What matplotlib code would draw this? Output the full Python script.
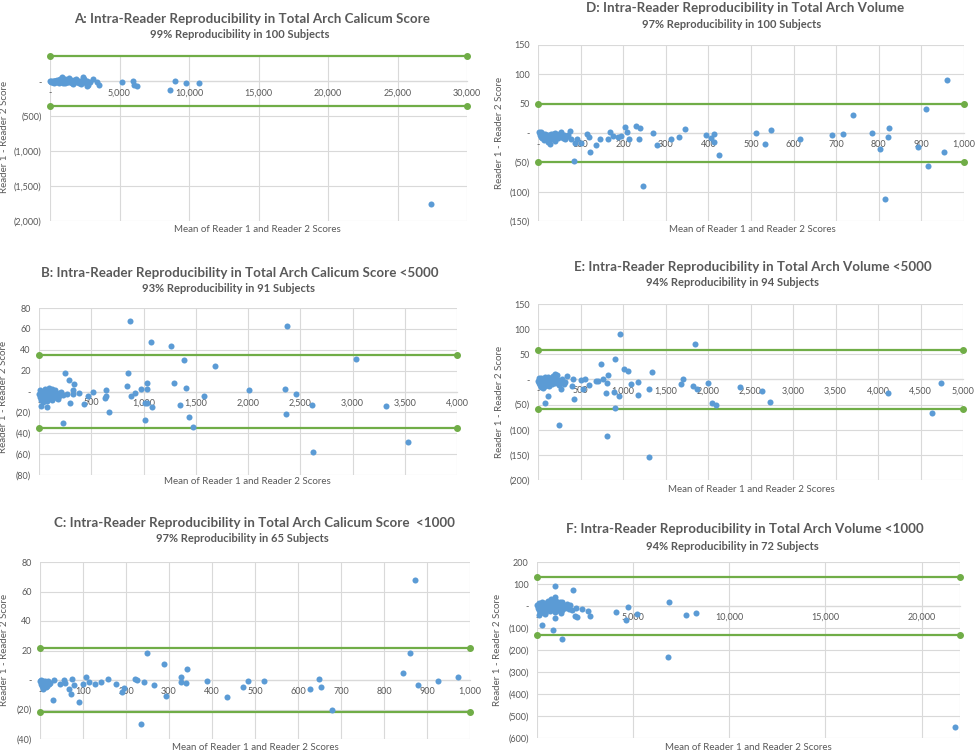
import matplotlib
matplotlib.use("Agg")
import matplotlib.pyplot as plt
from matplotlib.ticker import FuncFormatter, MultipleLocator

plt.rcParams['font.family'] = ['Lato', 'DejaVu Sans']

# ---------------- data ----------------
# Panel A: total arch calcium score
A_x = [20, 60, 100, 140, 180, 220, 260, 300, 340, 380, 420, 460, 500, 540, 580, 620, 660, 700, 740, 780,
       820, 880, 920, 960, 1000, 1050, 1100, 1150, 1200, 1250, 1300, 1350, 1400, 1450, 1500, 1550, 1600, 1650,
       1700, 1760, 1820, 1880, 1950, 2020, 2100, 2180, 2260, 2340, 2420, 2500, 2580, 2660, 2750, 2850,
       840, 2400, 3070, 3360, 3550, 2640, 5200, 6000, 6070, 6240, 8600, 8980, 9800, 10700, 27400]
A_y = [0, -8, 5, -15, 3, -5, 10, -20, 0, 8, -12, -3, 15, -6, 2, -25, 12, -10, 30, -2,
       5, 40, -18, 10, -8, 35, -30, 18, -5, 25, -15, 0, 45, -10, 20, -22, 8, -35, 15, 0, -12, 28, -6, 10,
       -20, 5, -40, 15, 30, -5, -25, 10, -50, -15,
       66, 66, 33, -14, -48, -62, -5, 0, -48, -71, -128, 5, -28, -24, -1753]

# Panel D: total arch volume
D_x = [2, 4, 5, 7, 8, 10, 11, 13, 15, 16, 18, 20, 22, 24, 25, 27, 28, 30, 32, 34, 35, 37, 39, 40, 42,
       45, 47, 49, 52, 55, 58, 60, 63, 66, 70,
       74, 77, 84, 88, 92, 102, 116, 120, 121, 135, 146, 164, 170, 175, 188, 194, 204, 209, 214, 229, 236,
       240, 246, 271, 280, 313, 330, 345, 395, 407, 412, 412, 424, 511, 532, 548, 614, 689, 715, 740, 783,
       803, 814, 821, 824, 893, 911, 915, 954, 961]
D_y = [2, -3, 0, -6, 1, -9, -2, -5, -12, -1, -7, -3, -10, -15, -4, -8, -18, -2, -6, -11, -1, -4, -14, 0, -7,
       -3, -9, -2, -5, 1, -8, -4, -10, -6, -3,
       4, -11, -47, -17, -11, -17, -2, -7, -32, -21, -11, -11, 1, -5, -7, -5, 11, 1, -10, 12, -10,
       8, -90, 0, -20, -10, -6, 6, -4, -9, -1, -15, -38, 0, -19, 5, -11, -4, -2, 31, 0,
       -27, -112, -7, 9, -24, 41, -56, -33, 90]

# Panel B: calcium score < 5000
B_x = [3, 8, 12, 18, 22, 28, 33, 38, 45, 50, 55, 60, 66, 72, 78, 85, 90, 96, 102, 108, 115, 120, 126, 132,
       140, 148, 155, 162, 170, 178, 188, 196, 205, 215, 230,
       869, 2377, 1070, 1259, 1390, 3032, 1681, 246, 856, 288, 339, 840, 1038, 1291, 974, 1035, 1403, 2013,
       2358, 2463, 920, 878, 1582, 645, 645, 636, 518, 470, 428, 387, 326, 326, 294, 674, 1010, 1032, 1086,
       1348, 1435, 1010, 1470, 230, 2610, 3316, 2361, 2620, 3530, 22, 80, 182, 265]
B_y = [-2, -5, 1, -8, -3, 0, -6, -10, -1, -4, 2, -7, -3, -9, 0, -5, -2, 3, -6, -1, -4, 2, -8, -3,
       0, -5, 1, -2, -6, -3, -1, -4, -2, 0, -3,
       68, 63, 47, 44, 30, 31, 24, 18, 18, 11, 7, 5, 8, 8, 2, 2, 3, 1,
       2, -2, -1, -4, -4, 1, -4, -6, 0, -4, -12, -1, 1, -2, -11, -20, -11, -11, -15,
       -13, -24, -27, -34, -30, -13, -14, -22, -58, -48, -14, -15, -7, -2]

# Panel E: volume < 5000
E_x = [5, 10, 15, 20, 25, 30, 35, 40, 45, 50, 55, 60, 65, 70, 75, 80, 85, 90, 95, 100, 110, 120, 130, 140,
       150, 160, 170, 180, 190, 200, 210, 220, 235, 250, 265, 280, 295,
       960, 1850, 909, 737, 1007, 1058, 1337, 823, 341, 204, 227, 1709, 2000, 1678, 1827, 1874, 1176, 1090,
       1180, 949, 890, 800, 768, 815, 1305, 909, 811, 1305, 243, 78, 114, 2380, 2630, 2728, 2050, 2093,
       4116, 4637, 4743, 419, 270, 408, 400, 533, 549, 502, 604, 686, 706, 306, 322]
E_y = [-3, 2, -8, -12, 0, -5, -15, 3, -9, -2, -18, -6, 1, -11, -4, -14, 5, -7, -1, -10, -3, 4, -13, -6,
       2, -9, -4, 6, -2, -8, 3, -5, -1, -11, -4, 1, -7,
       90, 70, 40, 31, 21, 17, 15, 8, 7, 11, 9, 1, -8, -10, -14, -19, -5, -9,
       -31, -33, -25, -27, 0, -7, -19, -56, -113, -154, -90, -46, -32, -16, -24, -45, -47, -51,
       -27, -66, -8, -38, -19, 0, -14, -19, 1, -1, -12, -4, -3, -9, -5]

# Panel C: calcium score < 1000
C_x = [1, 2, 3, 4, 5, 6, 7, 8, 9, 10, 11, 12, 13, 14, 15, 16, 18, 20,
       872, 860, 249, 288, 341, 845, 973, 327, 107, 75, 157, 220, 226, 649, 522, 483, 388, 242, 925, 327,
       339, 265, 176, 127, 115, 141, 99, 80, 880, 653, 471, 627, 195, 190, 294, 436, 90, 31, 68, 72, 234,
       679, 55, 57, 46, 33, 23]
C_y = [-1, -3, 0, -4, -2, -5, -1, -6, -3, -2, -4, -1, -5, -3, -2, -4, -1, -3,
       68, 18, 18.5, 10.6, 7.4, 4.5, 2, 2, 2, 0.7, 0.5, 0.5, -0.2, 0.7, -0.5, -0.7, -0.7, -1.1, -0.7, -1.6,
       -2, -3.4, -2.9, -2.7, -1.1, -1.6, -2.9, -3.2, -3.6, -4.5, -4.5, -6.1, -5.2, -7.9, -11, -11.5, -14.7,
       -13.5, -6.3, -9.7, -30, -20.3, 0, -1.8, -2.7, -0.2, -1.8]

# Panel F: volume < 1000
F_x = [20, 50, 80, 110, 140, 170, 200, 230, 260, 290, 320, 350, 380, 410, 440, 470, 500, 540, 580, 620,
       660, 700, 740, 780, 820, 860, 900, 950, 1000, 1050, 1100, 1150, 1200, 1280, 1360, 1450, 1550,
       955, 1858, 6875, 1319, 712, 920, 1007, 1736, 2048, 2361, 2656, 2760, 2083, 1996, 4097, 4740, 4635,
       5208, 7743, 8264, 6805, 21752, 243, 833, 1302, 920, 87, 399, 1649, 1823, 1198, 1267]
F_y = [5, -10, 12, -20, 0, -30, 8, -15, 20, -5, -25, 3, -12, 15, -35, -2, 10, -18, 25, -8,
       2, -22, 12, -4, 28, -14, 6, -28, 0, 15, -10, -3, 20, -16, 5, -8, 10,
       91, 73, 18, 18, 34, 41, 23, 3, -8, -12, -23, -44, -49, -46, -26, -5, -64,
       -35, -41, -34, -233, -550, -88, -110, -152, -53, -43, -32, -12, -20, -23, -30]

# limits of agreement (green lines)
A_loa, D_loa, B_loa, E_loa, C_loa, F_loa = 357, 49, 35, 58.7, 22, 130

titles = [
    "A: Intra-Reader Reproducibility in Total Arch Calicum Score",
    "D: Intra-Reader Reproducibility in Total Arch Volume",
    "B: Intra-Reader Reproducibility in Total Arch Calicum Score <5000",
    "E: Intra-Reader Reproducibility in Total Arch Volume <5000",
    "C: Intra-Reader Reproducibility in Total Arch Calicum Score  <1000",
    "F: Intra-Reader Reproducibility in Total Arch Volume <1000",
]
subtitles = [
    "99% Reproducibility in 100 Subjects",
    "97% Reproducibility in 100 Subjects",
    "93% Reproducibility in 91 Subjects",
    "94% Reproducibility in 94 Subjects",
    "97% Reproducibility in 65 Subjects",
    "94% Reproducibility in 72 Subjects",
]
xlabel = "Mean of Reader 1 and Reader 2 Scores"
ylabel = "Reader 1 - Reader 2 Score"

# ---------------- style ----------------
W, H = 975, 753
fig = plt.figure(figsize=(W / 100, H / 100), dpi=100)
TXT = '#595959'
GRID = '#d9d9d9'
BLUE = '#5b9bd5'
GREEN = '#70ad47'


def acct(v, pos=None):
    if abs(v) < 1e-9:
        return '-'
    if v < 0:
        return f'({-v:,.0f})'
    return f'{v:,.0f}'


def px(x, y):
    return x / W, 1 - y / H


panels = [
    # x, y, loa, box(l,t,r,b), xlim, xstep, ylim, ystep, title pos, sub pos, xlabel pos, ylabel pos
    (A_x, A_y, A_loa, (50, 56, 467, 221), (0, 30000), 5000, (-2000, 362), 500,
     (252, 19), (240, 35), (257, 230), (5, 137)),
    (D_x, D_y, D_loa, (538, 45, 964, 221), (0, 1000), 100, (-150, 150), 50,
     (745, 8), (732, 24), (752, 230), (500, 133)),
    (B_x, B_y, B_loa, (39, 308, 457, 475), (0, 4000), 500, (-80, 80), 20,
     (240, 273), (228, 289), (247, 482), (4, 397)),
    (E_x, E_y, E_loa, (538, 304, 963, 480), (0, 5000), 500, (-200, 150), 50,
     (753, 267), (732, 283), (751, 489), (500, 402)),
    (C_x, C_y, C_loa, (40, 562, 470, 739), (0, 1000), 100, (-40, 80), 20,
     (254, 523), (242, 539), (255, 748), (5, 650)),
    (F_x, F_y, F_loa, (537, 562, 960, 738), (0, 22000), 5000, (-600, 200), 100,
     (745, 529), (732, 546), (748, 747), (498, 650)),
]

for i, (xs, ys, loa, box, xlim, xstep, ylim, ystep, tpos, spos, xlpos, ylpos) in enumerate(panels):
    l, t, r, b = box
    ax = fig.add_axes([l / W, 1 - b / H, (r - l) / W, (b - t) / H])
    ax.set_xlim(*xlim)
    ax.set_ylim(*ylim)
    ax.xaxis.set_major_locator(MultipleLocator(xstep))
    ax.yaxis.set_major_locator(MultipleLocator(ystep))
    ax.xaxis.set_major_formatter(FuncFormatter(acct))
    ax.yaxis.set_major_formatter(FuncFormatter(acct))
    for s in ['top', 'right', 'left']:
        ax.spines[s].set_visible(False)
    ax.spines['bottom'].set_position(('data', 0))
    ax.spines['bottom'].set_color(GRID)
    ax.spines['bottom'].set_linewidth(0.9)
    ax.grid(True, color=GRID, linewidth=0.8)
    ax.set_axisbelow(True)
    ax.tick_params(axis='both', length=0, labelsize=6.5, labelcolor=TXT)
    ax.tick_params(axis='x', pad=5)
    ax.tick_params(axis='y', pad=6)
    if xlim[1] % xstep:
        ax.axvline(xlim[1], color=GRID, linewidth=0.8, zorder=0)
    ax.plot([xlim[0], xlim[1]], [loa, loa], color=GREEN, lw=1.6, marker='o', ms=4, clip_on=False, zorder=2)
    ax.plot([xlim[0], xlim[1]], [-loa, -loa], color=GREEN, lw=1.6, marker='o', ms=4, clip_on=False, zorder=2)
    ax.scatter(xs, ys, s=19, color=BLUE, zorder=3, clip_on=False, linewidths=0)

    fig.text(*px(*tpos), titles[i], ha='center', va='center', fontsize=9.6, fontweight='bold', color=TXT)
    fig.text(*px(*spos), subtitles[i], ha='center', va='center', fontsize=8, fontweight='bold', color=TXT)
    fig.text(*px(*xlpos), xlabel, ha='center', va='center', fontsize=7, color=TXT)
    fig.text(*px(*ylpos), ylabel, ha='center', va='center', fontsize=7, color=TXT, rotation=90)

fig.savefig('out.png', dpi=100)
